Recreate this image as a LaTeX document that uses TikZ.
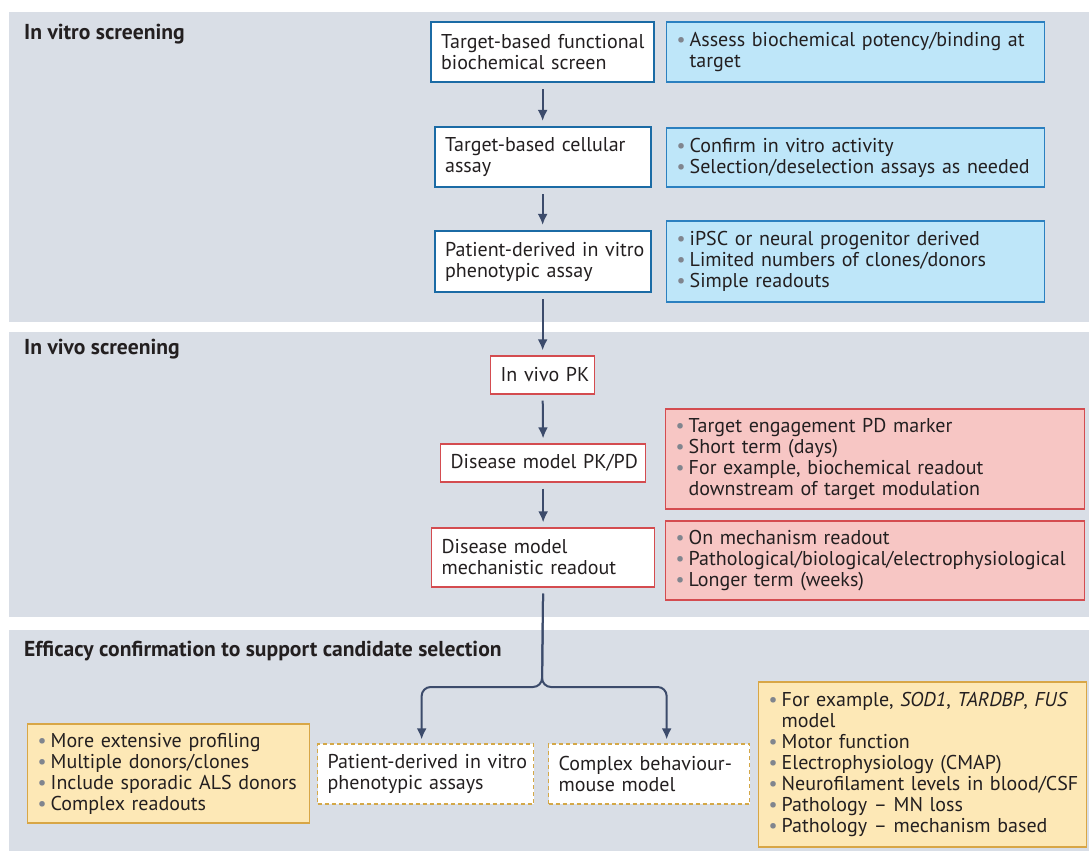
\documentclass[tikz,border=0pt]{standalone}
\usepackage{fontspec}
\setmainfont{PT Sans}
\usetikzlibrary{arrows.meta}
\definecolor{panel}{HTML}{D9DEE6}
\definecolor{blueb}{HTML}{1B6BA5}
\definecolor{bluef}{HTML}{BEE6F9}
\definecolor{blueib}{HTML}{2B80C0}
\definecolor{redb}{HTML}{D44C50}
\definecolor{redf}{HTML}{F7C6C4}
\definecolor{yelf}{HTML}{FDE8B6}
\definecolor{yelb}{HTML}{D8A646}
\definecolor{dashb}{HTML}{D4A848}
\definecolor{arrc}{HTML}{3C4B6B}
\definecolor{bgray}{HTML}{80858E}
\definecolor{textc}{HTML}{231F20}
\newcommand\bl[1]{\mbox{\textcolor{bgray}{\textbullet}\hspace{4pt}#1}}
\newcommand\bc[1]{\mbox{\hphantom{\textbullet}\hspace{4pt}#1}}
\newcommand\mb[1]{\mbox{#1}}
\tikzset{
  base/.style={rectangle, anchor=west, align=left, inner xsep=10pt, inner ysep=0pt,
    font=\fontsize{20}{21}\selectfont, text=textc},
  flowblue/.style={base, draw=blueb, line width=2.2pt, fill=white},
  flowred/.style={base, draw=redb, line width=1.3pt, fill=white},
  infoblue/.style={base, draw=blueib, line width=1.3pt, fill=bluef},
  infored/.style={base, draw=redb, line width=1.3pt, fill=redf},
  infoyel/.style={base, draw=yelb, line width=1.3pt, fill=yelf},
  dashbox/.style={base, draw=dashb, line width=1.3pt, dash pattern=on 4pt off 3pt, fill=white},
  title/.style={anchor=west, inner sep=0pt, font=\bfseries\fontsize{21.6}{22}\selectfont, text=textc},
  arr/.style={draw=arrc, line width=2pt, -{Latex[length=11pt,width=10pt]}, shorten <=6pt, shorten >=5pt}
}
\begin{document}
\begin{tikzpicture}[x=1pt,y=-1pt]
\useasboundingbox (0,0) rectangle (1089,851);
\fill[white] (0,0) rectangle (1089,851);
% panels
\fill[panel] (9,12) rectangle (1089,322);
\fill[panel] (9,332) rectangle (1089,617);
\fill[panel] (9,630) rectangle (1089,851);
\node[title] (t1) at (24,34) {In vitro screening};
\node[title] (t2) at (24,349) {In vivo screening};
\node[title] (t3) at (24,651) {Efficacy confirmation to support candidate selection};
% in vitro
\node[flowblue, text width=203pt, minimum height=60pt] (b1) at (430,52) {\mb{Target-based functional}\\\mb{biochemical screen}};
\node[infoblue, text width=358pt, minimum height=60pt] (i1) at (666,52) {\bl{Assess biochemical potency/binding at}\\\bc{target}};
\node[flowblue, text width=196pt, minimum height=60pt] (b2) at (434,157) {\mb{Target-based cellular}\\\mb{assay}};
\node[infoblue, text width=358pt, minimum height=59pt] (i2) at (666,157.5) {\bl{Confirm in vitro activity}\\\bl{Selection/deselection assays as needed}};
\node[flowblue, text width=196pt, minimum height=61pt] (b3) at (434,261.5) {\mb{Patient-derived in vitro}\\\mb{phenotypic assay}};
\node[infoblue, text width=358pt, minimum height=81pt] (i3) at (666,261.5) {\bl{iPSC or neural progenitor derived}\\\bl{Limited numbers of clones/donors}\\\bl{Simple readouts}};
% in vivo
\node[flowred, text width=84pt, minimum height=38pt, align=center] (pk) at (490,375) {\mb{In vivo PK}};
\node[flowred, text width=185pt, minimum height=38pt] (pd) at (440,463) {\mb{Disease model PK/PD}};
\node[flowred, text width=203pt, minimum height=59pt] (me) at (431,557.5) {\mb{Disease model}\\\mb{mechanistic readout}};
\node[infored, text width=399pt, minimum height=100pt] (r1) at (665,459) {\bl{Target engagement PD marker}\\\bl{Short term (days)}\\\bl{For example, biochemical readout}\\\bc{downstream of target modulation}};
\node[infored, text width=399pt, minimum height=79pt] (r2) at (665,560.5) {\bl{On mechanism readout}\\\bl{Pathological/biological/electrophysiological}\\\bl{Longer term (weeks)}};
% efficacy
\node[infoyel, text width=262pt, minimum height=99pt] (yl) at (27,773.5) {\bl{More extensive profiling}\\\bl{Multiple donors/clones}\\\bl{Include sporadic ALS donors}\\\bl{Complex readouts}};
\node[dashbox, text width=196pt, minimum height=60pt] (pa) at (317,774) {\mb{Patient-derived in vitro}\\\mb{phenotypic assays}};
\node[dashbox, text width=181pt, minimum height=60pt] (cb) at (548,774) {\mb{Complex behaviour-}\\\mb{mouse model}};
\node[infoyel, text width=308pt, minimum height=165pt] (yr) at (758,764.5) {\bl{For example, \textit{SOD1}, \textit{TARDBP}, \textit{FUS}}\\\bc{model}\\\bl{Motor function}\\\bl{Electrophysiology (CMAP)}\\\bl{Neurofilament levels in blood/CSF}\\\bl{Pathology -- MN loss}\\\bl{Pathology -- mechanism based}};
% connectors
\draw[arr] (b1.south -| pk.north) -- (b2.north -| pk.north);
\draw[arr] (b2.south -| pk.north) -- (b3.north -| pk.north);
\draw[arr] (b3.south -| pk.north) -- (pk.north);
\draw[arr] (pk.south) -- (pd.north);
\draw[arr] (pd.south) -- (me.north);
\coordinate (brj) at (542,687);
\coordinate (pat) at ([xshift=-4pt]pa.north);
\coordinate (cbt) at ([xshift=17.5pt]cb.north);
\draw[arr, rounded corners=9pt, shorten >=4pt] (me.south) -- (brj) -| (pat);
\draw[arr, rounded corners=9pt, shorten >=4pt] (me.south) -- (brj) -| (cbt);
\end{tikzpicture}
\end{document}
